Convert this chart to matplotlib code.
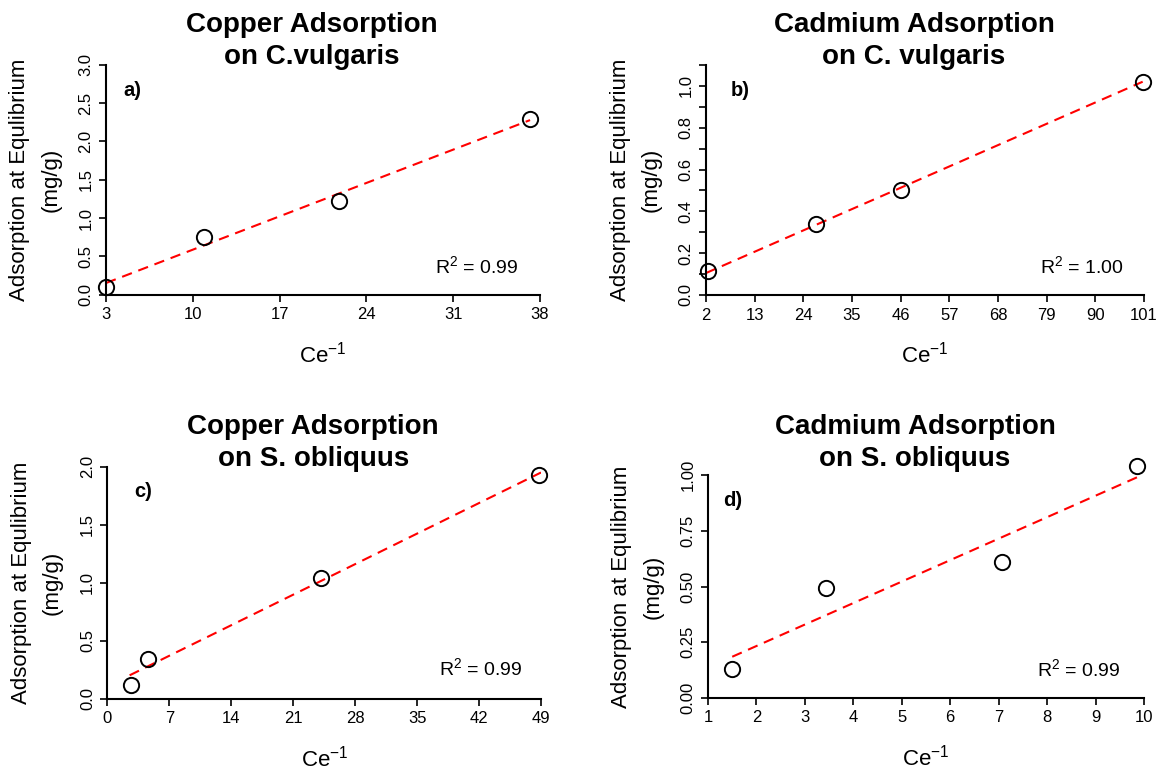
import matplotlib
matplotlib.use('Agg')
import matplotlib.pyplot as plt

plt.rcParams['font.family'] = ['Liberation Sans', 'DejaVu Sans']
plt.rcParams['mathtext.default'] = 'regular'

W, H = 1157, 771

# panel a) copper on C.vulgaris
cu_cv_x = [3.0, 10.9, 21.8, 37.2]
cu_cv_y = [0.10, 0.75, 1.22, 2.30]
cu_cv_fit_x = [3.0, 37.2]
cu_cv_fit_y = [0.15, 2.28]
cu_cv_xticks = [3, 10, 17, 24, 31, 38]
cu_cv_yticks = [0.0, 0.5, 1.0, 1.5, 2.0, 2.5, 3.0]

# panel b) cadmium on C. vulgaris
cd_cv_x = [2.4, 26.9, 46.0, 100.7]
cd_cv_y = [0.115, 0.34, 0.50, 1.02]
cd_cv_fit_x = [2.0, 100.7]
cd_cv_fit_y = [0.105, 1.02]
cd_cv_xticks = [2, 13, 24, 35, 46, 57, 68, 79, 90, 101]
cd_cv_yticks = [0.0, 0.1, 0.2, 0.3, 0.4, 0.5, 0.6, 0.7, 0.8, 0.9, 1.0, 1.1]
cd_cv_ylabels = ['0.0', '', '0.2', '', '0.4', '', '0.6', '', '0.8', '', '1.0', '']

# panel c) copper on S. obliquus
cu_so_x = [2.6, 4.6, 24.1, 48.8]
cu_so_y = [0.12, 0.34, 1.04, 1.93]
cu_so_fit_x = [2.5, 49.0]
cu_so_fit_y = [0.20, 1.95]
cu_so_xticks = [0, 7, 14, 21, 28, 35, 42, 49]
cu_so_yticks = [0.0, 0.5, 1.0, 1.5, 2.0]

# panel d) cadmium on S. obliquus
cd_so_x = [1.5, 3.44, 7.07, 9.85]
cd_so_y = [0.13, 0.495, 0.61, 1.04]
cd_so_fit_x = [1.5, 9.86]
cd_so_fit_y = [0.185, 0.99]
cd_so_xticks = [1, 2, 3, 4, 5, 6, 7, 8, 9, 10]
cd_so_yticks = [0.0, 0.25, 0.5, 0.75, 1.0]
cd_so_ylabels = ['0.00', '0.25', '0.50', '0.75', '1.00']


def fx(x):
    return x / W


def fy(y):
    return 1 - y / H


fig = plt.figure(figsize=(W / 100, H / 100), dpi=100)


def panel(box, xs, ys, fx_, fy_, xticks, yticks, ylabels, ylim_top,
          title, tag, tag_pos, r2, r2_pos, title_y):
    left, right, bottom, top = box
    ax = fig.add_axes([fx(left), fy(bottom), (right - left) / W, (bottom - top) / H])
    ax.plot(fx_, fy_, color='red', lw=1.5, dashes=(5, 3.3), zorder=2)
    ax.plot(xs, ys, 'o', mfc='none', mec='black', ms=11, mew=1.4,
            clip_on=False, zorder=3)
    ax.set_xlim(xticks[0], xticks[-1])
    ax.set_ylim(0, ylim_top)
    ax.set_xticks(xticks)
    ax.set_yticks(yticks)
    if ylabels is None:
        ylabels = ['%.1f' % v for v in yticks]
    ax.set_yticklabels(ylabels)
    for s in ['top', 'right']:
        ax.spines[s].set_visible(False)
    for s in ['left', 'bottom']:
        ax.spines[s].set_linewidth(1.5)
    ax.tick_params(length=5, width=1.2, labelsize=12, pad=4)
    for t in ax.get_yticklabels():
        t.set_rotation(90)
        t.set_va('center')
    cx = (left + right) / 2
    fig.text(fx(cx - 11), fy(title_y), title[0], ha='center', va='center',
             fontsize=20, fontweight='bold')
    fig.text(fx(cx - 11), fy(title_y + 32), title[1], ha='center', va='center',
             fontsize=20, fontweight='bold')
    fig.text(fx(tag_pos[0]), fy(tag_pos[1]), tag, ha='center', va='center',
             fontsize=14.5, fontweight='bold')
    fig.text(fx(r2_pos[0]), fy(r2_pos[1]), 'R$^2$ = ' + r2, ha='center',
             va='center', fontsize=14)
    cy = (top + bottom) / 2
    fig.text(fx(left - 86), fy(cy), 'Adsorption at Equlibrium', rotation=90,
             ha='center', va='center', fontsize=16)
    fig.text(fx(left - 55), fy(cy), '(mg/g)', rotation=90,
             ha='center', va='center', fontsize=16)
    fig.text(fx(cx), fy(bottom + 60), 'Ce$^{-1}$', ha='center', va='center',
             fontsize=16)
    return ax


panel((106, 540, 294.5, 65), cu_cv_x, cu_cv_y, cu_cv_fit_x, cu_cv_fit_y,
      cu_cv_xticks, cu_cv_yticks, None, 3.0,
      ('Copper Adsorption', 'on C.vulgaris'), 'a)', (132, 90),
      '0.99', (477, 266), 25)

panel((706, 1144, 295, 65), cd_cv_x, cd_cv_y, cd_cv_fit_x, cd_cv_fit_y,
      cd_cv_xticks, cd_cv_yticks, cd_cv_ylabels, 1.1,
      ('Cadmium Adsorption', 'on C. vulgaris'), 'b)', (740, 90),
      '1.00', (1082, 266), 25)

panel((107.5, 541, 698.5, 466.7), cu_so_x, cu_so_y, cu_so_fit_x, cu_so_fit_y,
      cu_so_xticks, cu_so_yticks, None, 2.0,
      ('Copper Adsorption', 'on S. obliquus'), 'c)', (143, 492),
      '0.99', (481, 668), 427)

panel((708, 1144, 698, 475), cd_so_x, cd_so_y, cd_so_fit_x, cd_so_fit_y,
      cd_so_xticks, cd_so_yticks, cd_so_ylabels, 1.0,
      ('Cadmium Adsorption', 'on S. obliquus'), 'd)', (733, 500),
      '0.99', (1079, 669), 427)

fig.savefig('out.png', dpi=100)
